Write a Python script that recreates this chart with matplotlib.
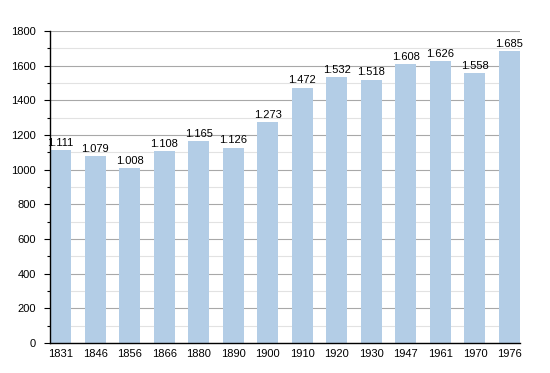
import matplotlib.pyplot as plt
from matplotlib.ticker import MultipleLocator

years = ["1831", "1846", "1856", "1866", "1880", "1890", "1900",
         "1910", "1920", "1930", "1947", "1961", "1970", "1976"]
population = [1111, 1079, 1008, 1108, 1165, 1126, 1273,
              1472, 1532, 1518, 1608, 1626, 1558, 1685]
labels = ["1.111", "1.079", "1.008", "1.108", "1.165", "1.126", "1.273",
          "1.472", "1.532", "1.518", "1.608", "1.626", "1.558", "1.685"]

plt.rcParams['font.family'] = ['Liberation Sans', 'DejaVu Sans']
plt.rcParams['font.size'] = 8

fig = plt.figure(figsize=(5.5, 3.73), dpi=100)
ax = fig.add_axes([50/550, 30/373, 470/550, 312/373])

w = 0.61
x = range(len(years))
ax.bar(x, population, width=w, color="#b3cde6", zorder=2)
for i, v in enumerate(population):
    ax.text(i, v + 14, labels[i], ha="center", va="bottom", fontsize=8)

ax.set_xlim(-w/2, len(years) - 1 + w/2)
ax.set_ylim(0, 1800)
ax.set_xticks(list(x))
ax.set_xticklabels(years)
ax.yaxis.set_major_locator(MultipleLocator(200))
ax.yaxis.set_minor_locator(MultipleLocator(100))
ax.grid(axis="y", which="major", color="#a8a8a8", linewidth=0.8, zorder=0)
ax.grid(axis="y", which="minor", color="#e2e2e2", linewidth=0.8, zorder=0)
ax.set_axisbelow(True)

for s in ["top", "right"]:
    ax.spines[s].set_visible(False)
ax.spines["left"].set_linewidth(1.0)
ax.spines["bottom"].set_linewidth(1.0)
ax.tick_params(axis="x", length=0, pad=4)
ax.tick_params(axis="y", which="major", length=4, width=0.8, pad=6)
ax.tick_params(axis="y", which="minor", length=2.5, width=0.8)

fig.savefig("out.png", dpi=100)
